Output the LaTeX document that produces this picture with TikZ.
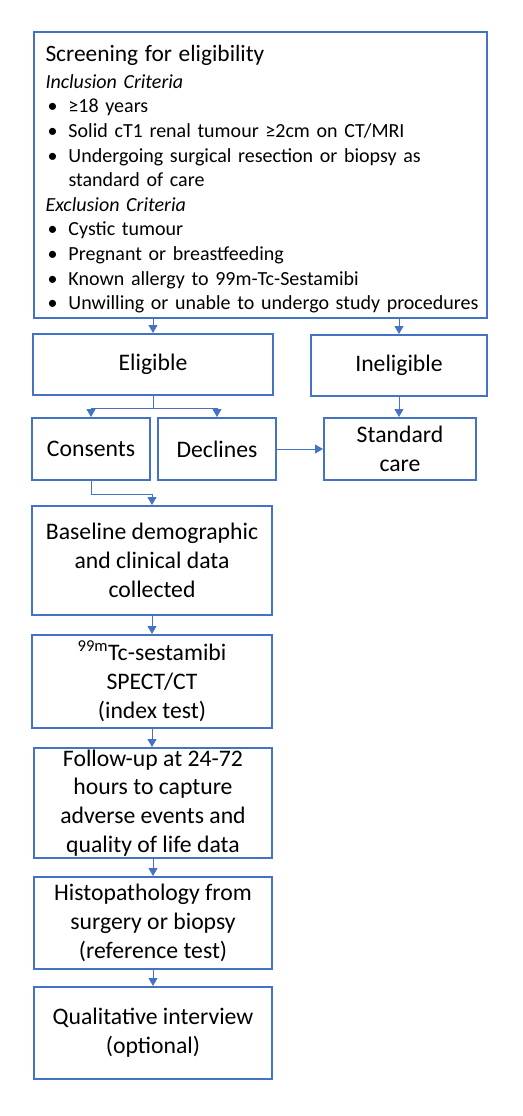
\documentclass[tikz,border=0pt]{standalone}
\usepackage{fontspec}
\setmainfont{Carlito}
\usetikzlibrary{arrows.meta,calc}
\definecolor{myblue}{HTML}{4472C4}
\newcommand{\boxfont}{\fontsize{23.7}{28.8}\selectfont}
\newcommand{\bodyfont}{\fontsize{20}{24.6}\selectfont}
\newcommand{\headfont}{\fontsize{23.4}{24.6}\selectfont}
\newcommand{\bul}[1]{\par\hangindent=23pt\hangafter=1\noindent\makebox[23pt][l]{\hspace{2pt}•}#1\par}
\tikzset{
  flowbox/.style={draw=myblue, line width=2pt, align=center, inner sep=0pt, font=\boxfont},
  screenbox/.style={draw=myblue, line width=2pt, align=left, inner xsep=12pt, inner ysep=0pt,
    text width=429pt, minimum height=286pt, font=\bodyfont},
  arr/.style={draw=myblue, line width=1pt, -{Triangle[length=8pt,width=9pt]}},
}
\begin{document}
\begin{tikzpicture}[x=1pt,y=-1pt]
\useasboundingbox (0,0) rectangle (522,1116);
\node[screenbox] (screen) at (260,175) {\hyphenpenalty=10000 {\headfont\rule{0pt}{25pt}Screening for eligibility\par}\vspace{2pt}
{\itshape Inclusion Criteria}\par
\bul{≥18 years}
\bul{\mbox{Solid cT1 renal tumour ≥2cm on CT/MRI}}
\bul{\mbox{Undergoing surgical resection or biopsy as}\hfil\break standard of care}
{\itshape Exclusion Criteria}\par
\bul{Cystic tumour}
\bul{Pregnant or breastfeeding}
\bul{Known allergy to 99m-Tc-Sestamibi}
\bul{\mbox{Unwilling or unable to undergo study procedures}}};

\node[flowbox, minimum width=240pt, minimum height=61pt] (eligible) at (153,364.5) {Eligible};
\node[flowbox, minimum width=176pt, minimum height=61pt] (ineligible) at (399,365.5) {Ineligible};
\node[flowbox, minimum width=118pt, minimum height=62pt] (consents) at (91,449) {Consents};
\node[flowbox, minimum width=118pt, minimum height=62pt] (declines) at (217,449) {Declines};
\node[flowbox, minimum width=152pt, minimum height=62pt] (standard) at (400,449) {Standard\\care};
\node[flowbox, minimum width=240pt, minimum height=109pt] (baseline) at (152,560.5) {Baseline demographic\\and clinical data\\collected};
\node[flowbox, minimum width=240pt, minimum height=93pt] (spect) at (152,681.5) {\textsuperscript{99m}Tc-sestamibi\\SPECT/CT\\(index test)};
\node[flowbox, minimum width=238pt, minimum height=110pt] (follow) at (153,803) {Follow-up at 24-72\\hours to capture\\adverse events and\\quality of life data};
\node[flowbox, minimum width=238pt, minimum height=92pt] (histo) at (153,923) {Histopathology from\\surgery or biopsy\\(reference test)};
\node[flowbox, minimum width=238pt, minimum height=92pt] (qual) at (153,1033) {Qualitative interview\\(optional)};

\coordinate (split) at ($(eligible.south)+(0,12)$);
\coordinate (join) at ($(consents.south)+(0,13)$);

\draw[arr] (eligible.north |- screen.south) -- (eligible.north);
\draw[arr] (ineligible.north |- screen.south) -- (ineligible.north);
\draw[arr] (eligible.south) -- (split) -| (consents.north);
\draw[arr] (split) -| (declines.north);
\draw[arr] (ineligible.south) -- (ineligible.south |- standard.north);
\draw[arr] (declines.east) -- (standard.west);
\draw[arr] (consents.south) -- (join) -| (baseline.north);
\draw[arr] (baseline.south) -- (spect.north);
\draw[arr] (spect.south) -- (spect.south |- follow.north);
\draw[arr] (follow.south) -- (histo.north);
\draw[arr] (histo.south) -- (qual.north);
\end{tikzpicture}
\end{document}
